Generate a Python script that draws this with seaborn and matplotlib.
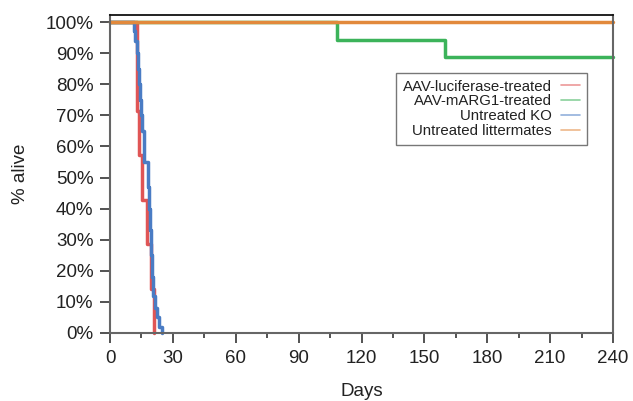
import pandas as pd
import matplotlib
matplotlib.use("Agg")
from matplotlib import pyplot as plt
import seaborn as sns

# survival curves (day of step, % alive after the step)
luc_days = [0, 13, 14, 15.5, 17.5, 19.5, 21]
luc_pct = [100, 71.4, 57.1, 42.9, 28.6, 14.3, 0]

marg_days = [0, 108.5, 160, 240]
marg_pct = [100, 94.4, 88.9, 88.9]

ko_days = [0, 11.5, 12, 13, 13.5, 14, 14.5, 15, 15.5, 16, 18, 18.5, 19, 19.5, 20, 20.5, 21.5, 22.5, 23.5, 25]
ko_pct = [100, 97, 94, 90, 85, 80, 75, 70, 65, 55, 47, 40, 33, 25, 18, 12, 8, 5, 2, 0]

litter_days = [0, 240]
litter_pct = [100, 100]

groups = ["AAV-luciferase-treated", "AAV-mARG1-treated", "Untreated KO", "Untreated littermates"]
colors = ["#e05555", "#3cb35a", "#4a7cc4", "#e2893c"]

frames = []
for g, d, p in zip(groups,
                   [luc_days, marg_days, ko_days, litter_days],
                   [luc_pct, marg_pct, ko_pct, litter_pct]):
    frames.append(pd.DataFrame({"day": d, "pct": p, "group": g}))
df = pd.concat(frames, ignore_index=True)

sns.set_style("ticks")
plt.rcParams["font.family"] = ["Liberation Sans", "DejaVu Sans"]

fig = plt.figure(figsize=(6.33, 4.01), dpi=100)
ax = fig.add_axes([0.1738, 0.1696, 0.7946, 0.793])

# draw order: red, green, blue, orange on top
for g, c in zip(groups, colors):
    sub = df[df["group"] == g]
    sns.lineplot(data=sub, x="day", y="pct", color=c, ax=ax, label=g,
                 estimator=None, sort=False, drawstyle="steps-post",
                 linewidth=2.5, clip_on=False)

ax.set_xlim(0, 240)
ax.set_ylim(0, 102.3)
ax.set_xticks(range(0, 241, 30))
ax.set_xticks(range(15, 241, 30), minor=True)
ax.set_yticks(range(0, 101, 10))
ax.set_yticklabels([f"{v}%" for v in range(0, 101, 10)])

ax.tick_params(axis="both", which="major", length=7, width=1.3, color="#444444",
               labelsize=13.5, labelcolor="#222222", pad=5)
ax.tick_params(axis="x", which="minor", length=3.5, width=1.3, color="#444444")
ax.set_xlabel("Days", fontsize=13.5, color="#222222", labelpad=12)
ax.set_ylabel("% alive", fontsize=13.5, color="#222222", labelpad=12)

for side in ["left", "bottom", "right"]:
    ax.spines[side].set_color("#666666")
    ax.spines[side].set_linewidth(1.5)
ax.spines["top"].set_color("#111111")
ax.spines["top"].set_linewidth(1.3)

leg = ax.legend(loc="upper right", bbox_to_anchor=(0.948, 0.818), borderaxespad=0,
                markerfirst=False, fontsize=10.8, handlelength=1.3, handletextpad=0.6,
                labelspacing=0.05, frameon=True, fancybox=False, edgecolor="#555555",
                borderpad=0.45)
leg.get_frame().set_linewidth(1.0)
for ln in leg.get_lines():
    ln.set_linewidth(1.2)
    ln.set_alpha(0.6)
for t in leg.get_texts():
    t.set_color("#222222")
# right align the labels
for vp in leg._legend_box.get_children()[1].get_children():
    vp.align = "right"

fig.savefig("out.png", dpi=100)
